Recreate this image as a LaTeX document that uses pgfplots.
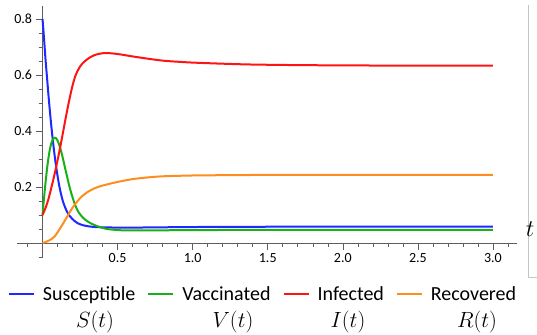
\documentclass[border=0pt]{standalone}
\usepackage{fix-cm}
\usepackage{pgfplots}
\pgfplotsset{compat=1.18}
\usepackage{fontspec}
\setmainfont{Carlito}
\definecolor{cS}{RGB}{30,40,255}
\definecolor{cV}{RGB}{25,175,25}
\definecolor{cI}{RGB}{255,20,20}
\definecolor{cR}{RGB}{255,140,30}
\definecolor{axgray}{RGB}{95,95,95}
\begin{document}
\begin{tikzpicture}
\useasboundingbox (-17pt,-77pt) rectangle (520pt,257pt);
\draw[gray!45, line width=0.8pt] (511pt,252pt) -- (511pt,-20pt) -- (520pt,-20pt);
\begin{axis}[at={(0,0)}, anchor=south west, scale only axis,
  width=500pt, height=251pt,
  xmin=-0.17, xmax=3.16, ymin=-0.05, ymax=0.846,
  axis lines=middle, axis line style={axgray, line width=0.8pt, -},
  xtick={0.5,1,1.5,2,2.5,3}, ytick={0.2,0.4,0.6,0.8},
  minor xtick={-0.1,0.1,0.2,0.3,0.4,0.6,0.7,0.8,0.9,1.1,1.2,1.3,1.4,1.6,1.7,1.8,1.9,2.1,2.2,2.3,2.4,2.6,2.7,2.8,2.9,3.1},
  minor ytick={-0.05,0.05,0.1,0.15,0.25,0.3,0.35,0.45,0.5,0.55,0.65,0.7,0.75},
  xticklabel style={/pgf/number format/.cd, fixed, fixed zerofill, precision=1, assume math mode=true},
  yticklabel style={/pgf/number format/.cd, fixed, fixed zerofill, precision=1, assume math mode=true},
  tick label style={font=\fontsize{14}{16}\selectfont, text=black},
  every tick/.style={axgray, line width=0.6pt},
  major tick length=7pt, minor tick length=4pt, tick align=outside,
  clip=false,
  legend columns=4,
  legend style={at={(axis description cs:0.49,-0.147)}, anchor=center, draw=none, fill=none,
    font=\fontsize{20}{22}\selectfont,
    nodes={inner sep=0pt},
    /tikz/every odd column/.append style={column sep=8pt},
    /tikz/every even column/.append style={column sep=12pt}},
  legend image code/.code={\draw[#1, line width=2pt] (0pt,0pt) -- (25pt,0pt);},
]
\addplot[cS, line width=2pt, smooth] coordinates {(0,0.80)(0.01,0.73)(0.02,0.655)(0.03,0.59)(0.04,0.525)(0.05,0.465)(0.06,0.41)(0.07,0.36)(0.08,0.315)(0.09,0.275)(0.10,0.24)(0.11,0.208)(0.12,0.182)(0.13,0.16)(0.14,0.142)(0.16,0.115)(0.18,0.097)(0.20,0.085)(0.23,0.072)(0.26,0.065)(0.3,0.06)(0.35,0.057)(0.4,0.056)(0.5,0.055)(0.6,0.055)(0.8,0.056)(1.0,0.057)(1.5,0.058)(2,0.058)(2.5,0.058)(3,0.058)};
\addlegendentry{Susceptible}
\addplot[cV, line width=2pt, smooth] coordinates {(0,0.10)(0.01,0.16)(0.02,0.215)(0.03,0.265)(0.04,0.305)(0.05,0.337)(0.06,0.358)(0.07,0.371)(0.08,0.376)(0.09,0.374)(0.10,0.366)(0.11,0.352)(0.12,0.335)(0.13,0.315)(0.14,0.292)(0.15,0.268)(0.16,0.245)(0.18,0.2)(0.20,0.163)(0.22,0.132)(0.24,0.11)(0.27,0.09)(0.3,0.077)(0.33,0.068)(0.37,0.059)(0.42,0.051)(0.48,0.047)(0.55,0.045)(0.7,0.045)(1.0,0.046)(1.5,0.047)(2,0.047)(3,0.047)};
\addlegendentry{Vaccinated}
\addplot[cI, line width=2pt, smooth] coordinates {(0,0.10)(0.02,0.125)(0.04,0.158)(0.06,0.2)(0.08,0.245)(0.10,0.295)(0.12,0.348)(0.14,0.405)(0.16,0.462)(0.18,0.515)(0.20,0.562)(0.22,0.598)(0.25,0.63)(0.28,0.648)(0.32,0.664)(0.36,0.673)(0.41,0.678)(0.46,0.677)(0.52,0.673)(0.6,0.666)(0.7,0.658)(0.8,0.651)(0.9,0.647)(1.0,0.644)(1.2,0.64)(1.4,0.637)(1.7,0.635)(2.0,0.634)(2.5,0.633)(3,0.633)};
\addlegendentry{Infected}
\addplot[cR, line width=2pt, smooth] coordinates {(0,0)(0.04,0.008)(0.08,0.023)(0.12,0.055)(0.16,0.09)(0.2,0.126)(0.25,0.16)(0.3,0.182)(0.35,0.196)(0.4,0.205)(0.5,0.218)(0.6,0.228)(0.7,0.234)(0.8,0.238)(1.0,0.241)(1.2,0.242)(1.5,0.243)(2,0.243)(3,0.243)};
\addlegendentry{Recovered}
\node[font=\fontsize{24}{26}\selectfont] at (axis description cs:1.026,0.11) {$t$};
\node[font=\fontsize{22}{24}\selectfont] at (axis description cs:0.156,-0.259) {$S(t)$};
\node[font=\fontsize{22}{24}\selectfont] at (axis description cs:0.432,-0.259) {$V(t)$};
\node[font=\fontsize{22}{24}\selectfont] at (axis description cs:0.662,-0.259) {$I(t)$};
\node[font=\fontsize{22}{24}\selectfont] at (axis description cs:0.92,-0.259) {$R(t)$};
\end{axis}
\end{tikzpicture}
\end{document}
